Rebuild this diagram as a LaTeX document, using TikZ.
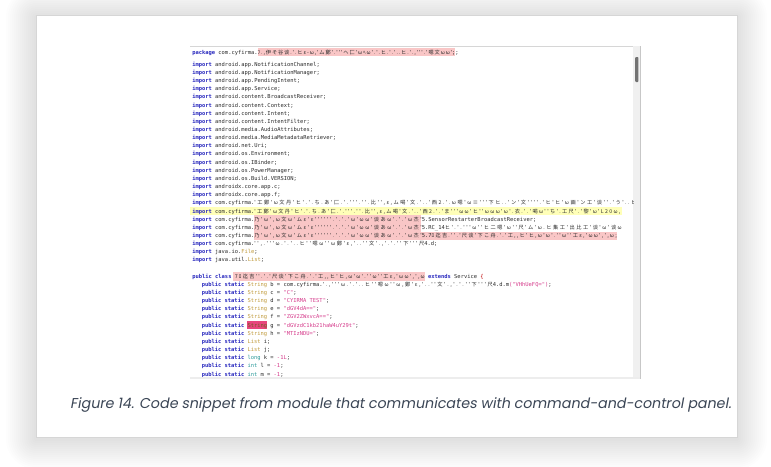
\documentclass[tikz,border=0pt]{standalone}
\usepackage{fontspec}
\usepackage{graphicx}
\newfontfamily\codefont{DejaVu Sans Mono}
\newfontfamily\cjk{Noto Sans CJK JP}
\newfontfamily\capfont[FakeSlant=0.18]{Poppins}
\definecolor{kwc}{HTML}{2828BE}
\definecolor{txc}{HTML}{2A2A2A}
\definecolor{tyc}{HTML}{C09A3A}
\definecolor{prc}{HTML}{2A9A9A}
\definecolor{stc}{HTML}{D63C8C}
\definecolor{redhl}{HTML}{F9C6C6}
\definecolor{yelhl}{HTML}{FFFFB8}
\definecolor{maghl}{HTML}{E8457D}
\definecolor{cardline}{HTML}{D6D6D6}
\definecolor{capc}{HTML}{3B4656}
\newcommand\kw[1]{\textcolor{kwc}{\bfseries #1}}
\newcommand\ty[1]{\textcolor{tyc}{#1}}
\newcommand\pr[1]{\textcolor{prc}{#1}}
\newcommand\st[1]{\textcolor{stc}{#1}}
\def\gbloop#1{\ifx#1\relax\else #1\hskip 0pt plus 1fil\relax\expandafter\gbloop\fi}
\newcommand\gb[2]{\hbox to #1pt{\cjk\fontsize{5.2}{7}\selectfont\gbloop#2\relax\unskip}}
\tikzset{
  code/.style={inner sep=0pt, outer sep=0pt, anchor=base west,
    font=\codefont\fontsize{5.43}{7}\selectfont, text=txc},
}
\begin{document}
\begin{tikzpicture}[x=1pt,y=-1pt]
\useasboundingbox (0,0) rectangle (771,466);
\fill[white] (0,0) rectangle (771,466);
% soft shadow
\foreach \d in {2,4,...,30} {
  \fill[black, opacity=0.006, rounded corners=\d pt] (36-\d,17-\d) rectangle (737+\d,439+\d);
}
% card
\node[draw=cardline, fill=white, line width=0.8pt, inner sep=0pt, minimum width=701pt, minimum height=422pt, anchor=north west] (card) at (36,15) {};
% screenshot frame
\draw[cardline, line width=0.7pt] (190,46) -- (633,46);
\fill[black!7] (190,376.5) rectangle (640,378.6);
\fill[black!6] (633,46) rectangle (640,377);
\draw[black!22, line width=0.8pt] (640.3,46) -- (640.3,378.6);
\fill[black!55, rounded corners=0.8pt] (635.2,57) rectangle (638.4,82);

\begin{scope}
\clip (190,46.5) rectangle (633,376.5);
% highlights
\fill[redhl] (258,48.3) rectangle (455,56.3);
\fill[yelhl] (190,207.1) rectangle (622,215.2);
\fill[redhl] (254,215.2) rectangle (421,231.6);
\fill[redhl] (254,231.6) rectangle (617,239.8);
\fill[redhl] (233,272.3) rectangle (425,280.5);
\fill[maghl] (247.3,321.2) rectangle (267.2,329.4);

\node[code] (pk) at (192.3,54.1) {\kw{package} com.cyfirma.\gb{194.5}{ﾌ.,伊そ谷谈.'.ヒε-ω,'ム鄭'.'''ヘ匚'ωﾍω'.'.ヒ.'.'..ヒ.'.,'''.'嗯文ωω'};;};
\foreach \k/\t in {0/android.app.NotificationChannel;, 1/android.app.NotificationManager;, 2/android.app.PendingIntent;, 3/android.app.Service;, 4/android.content.BroadcastReceiver;, 5/android.content.Context;, 6/android.content.Intent;, 7/android.content.IntentFilter;, 8/android.media.AudioAttributes;, 9/android.media.MediaMetadataRetriever;, 10/android.net.Uri;, 11/android.os.Environment;, 12/android.os.IBinder;, 13/android.os.PowerManager;, 14/android.os.Build.VERSION;, 15/androidx.core.app.c;, 16/androidx.core.app.f;} {
  \node[code] (imp\k) at (192.3,66.3+8.15*\k) {\kw{import} \t};
}
\node[code] (imp17) at (192.3,66.3+8.15*17) {\kw{import} com.cyfirma.\gb{385}{'工鄭'ω文丹'ヒ'.'.ち.あ'匚.'.'''.''.比'',ε,ム喝'文.'..'西2.'.ω嗯'ω≡'''下ヒ..'ン'文''''.'ヒ'ヒ'ω画'ン工'谈''.'う'..ヒ'}};
\node[code] (imp18) at (192.3,66.3+8.15*18) {\kw{import} com.cyfirma.\gb{366}{'工鄭'ω文丹'ヒ'.'.ち.あ'匚.'.'''.''.比'',ε,ム喝'文.'..'西2.'.'ま'''ωω'ヒ''ωωω'ω'.衣.'.'喝ω''ち'.工尺'.'黎'ω'L20ω,}};
\node[code] (imp19) at (192.3,66.3+8.15*19) {\kw{import} com.cyfirma.\gb{167.5}{乃'ω',ω文ω'ムε'ε''''''.'.'.'ω'ωω'谈あω'.'.'ω杰'}5.SensorRestarterBroadcastReceiver;};
\node[code] (imp20) at (192.3,66.3+8.15*20) {\kw{import} com.cyfirma.\gb{167.5}{乃'ω',ω文ω'ムε'ε''''''.'.'.'ω'ωω'谈あω'.'.'ω杰'}5.RC\_14\gb{177}{ヒ'.'.'''ω''ヒ二嗯'ω''尺'ム'ω.ヒ集工'出比工'谈'ω'谈ω}};
\node[code] (imp21) at (192.3,66.3+8.15*21) {\kw{import} com.cyfirma.\gb{167.5}{乃'ω',ω文ω'ムε'ε''''''.'.'.'ω'ωω'谈あω'.'.'ω杰'}5.7\gb{185}{ﾛ迄吉.''.'尺谈'下こ舟.'.'工,,ヒ'ヒ,ω'ω'.''ω''工ε,'ωω',',ω;}};
\node[code] (imp22) at (192.3,66.3+8.15*22) {\kw{import} com.cyfirma.\gb{170}{'',.'''ω.'.'..ヒ''嗯ω''ω鄭'ε,'..''文'.,'.'.''下'''尺}4.d;};
\node[code] (imp23) at (192.3,66.3+8.15*23) {\kw{import} java.io.\ty{File};};
\node[code] (imp24) at (192.3,66.3+8.15*24) {\kw{import} java.util.\ty{List};};

\node[code] (cls) at (192.3,66.3+8.15*26) {\kw{public class} \gb{190}{7ﾛ迄吉''.'.'尺谈'下こ舟.'.'工,,ヒ'ヒ,ω'ω'.''ω''工ε,'ωω',',ω} \kw{extends} Service \textcolor{red!75!black}{\{}};
\node[code] (vb) at (201.8,66.3+8.15*27) {\kw{public static} \ty{String} b = com.cyfirma.\gb{170}{'.,'''ω.'.'..ヒ''嗯ω''ω,鄭'ε,'..''文'.,'.'.''下'''尺}4.d.m\st{("VHhUeFQ=")};};
\node[code] (vc) at (201.8,66.3+8.15*28) {\kw{public static} \ty{String} c = \st{"C"};};
\node[code] (vd) at (201.8,66.3+8.15*29) {\kw{public static} \ty{String} d = \st{"CYIRMA TEST"};};
\node[code] (ve) at (201.8,66.3+8.15*30) {\kw{public static} \ty{String} e = \st{"dGV4dA=="};};
\node[code] (vf) at (201.8,66.3+8.15*31) {\kw{public static} \ty{String} f = \st{"ZGV2ZWxvcA=="};};
\node[code] (vg) at (201.8,66.3+8.15*32) {\kw{public static} \textcolor{tyc!60!black}{String} g = \st{"dGVzdC1kb21haW4uY29t"};};
\node[code] (vh) at (201.8,66.3+8.15*33) {\kw{public static} \ty{String} h = \st{"MTIzNDU="};};
\node[code] (vi) at (201.8,66.3+8.15*34) {\kw{public static} \ty{List} i;};
\node[code] (vj) at (201.8,66.3+8.15*35) {\kw{public static} \ty{List} j;};
\node[code] (vk) at (201.8,66.3+8.15*36) {\kw{public static} \pr{long} k = \st{-1L};};
\node[code] (vl) at (201.8,66.3+8.15*37) {\kw{public static} \pr{int} l = \st{-1};};
\node[code] (vm) at (201.8,66.3+8.15*38) {\kw{public static} \pr{int} m = \st{-1};};
\end{scope}

% caption
\node[inner sep=0pt, anchor=base west, text=capc] (cap) at (70,408.5)
  {\resizebox{661pt}{!}{\capfont\fontsize{13}{15}\selectfont Figure 14. Code snippet from module that communicates with command-and-control panel.}};
\end{tikzpicture}
\end{document}
